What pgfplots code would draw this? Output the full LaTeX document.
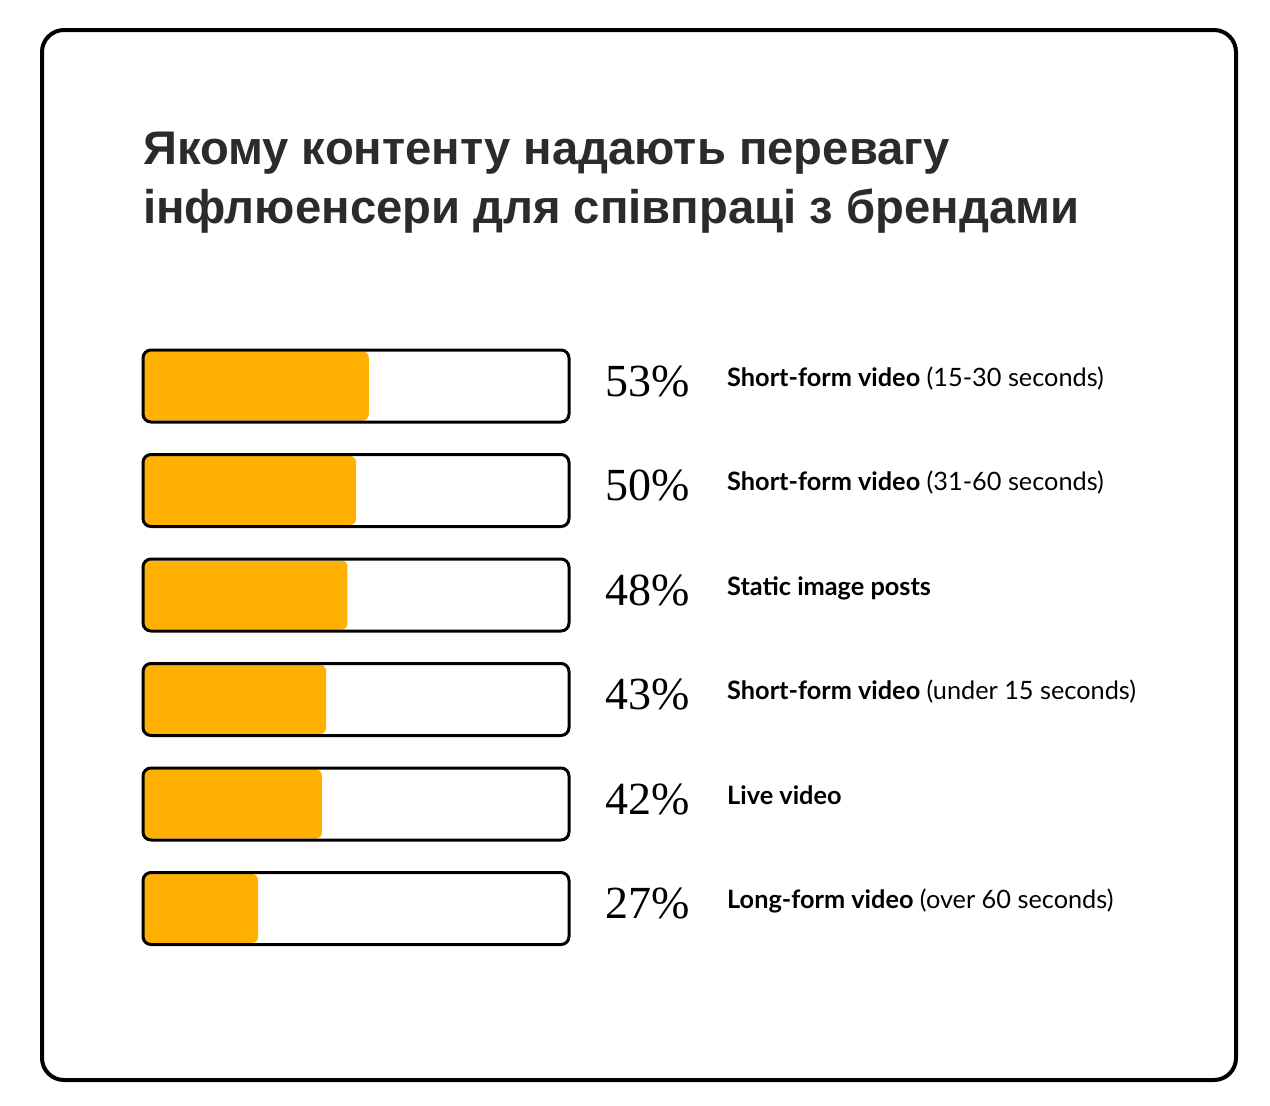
\documentclass[border=0pt]{standalone}
\usepackage{pgfplots}
\pgfplotsset{compat=1.18}
\usepackage{pgfplotstable}
\usepackage{fontspec}
\setmainfont{Lato}
\newfontfamily\titlefont{Liberation Sans}
\newfontfamily\numfont{Liberation Serif}
\definecolor{barfill}{HTML}{FFB000}
\definecolor{titlecol}{HTML}{2B2B2B}

\pgfplotstableread{
idx value
0 53
1 50
2 48
3 43
4 42
5 27
}\datatable

\begin{document}
\begin{tikzpicture}[x=1pt,y=1pt]
\path[use as bounding box, fill=white] (0,0) rectangle (1270,-1106);
\draw[line width=4pt, rounded corners=22pt] (42,-30) rectangle (1236,-1080);
\node[anchor=base west, inner sep=0pt, text=titlecol, font=\titlefont\bfseries\fontsize{47.2}{56}\selectfont] at (143,-164) {Якому контенту надають перевагу};
\node[anchor=base west, inner sep=0pt, text=titlecol, font=\titlefont\bfseries\fontsize{47.2}{56}\selectfont] at (143,-223) {інфлюенсери для співпраці з брендами};
\begin{axis}[
  at={(143pt,-333.75pt)}, anchor=north west,
  scale only axis, width=426pt, height=627pt,
  xmin=0, xmax=100, ymin=-0.5, ymax=5.5, y dir=reverse,
  hide axis, clip=false,
]
\addplot[xbar, bar shift=0pt, bar width=69pt, draw=none, fill=barfill, rounded corners=6pt]
  table[x=value, y=idx] {\datatable};
\addplot[xbar, bar shift=0pt, bar width=72pt, draw=black, line width=3pt, fill=none, rounded corners=8pt]
  coordinates {(100,0) (100,1) (100,2) (100,3) (100,4) (100,5)};
\tikzset{pct/.style={anchor=base west, inner sep=0pt, yshift=-10pt, font=\numfont\fontsize{46}{46}\selectfont},
         lab/.style={anchor=base west, inner sep=0pt, font=\fontsize{25.3}{25.3}\selectfont}}
\node[pct] at (axis cs:108.45,0) {53\%};
\node[pct] at (axis cs:108.45,1) {50\%};
\node[pct] at (axis cs:108.45,2) {48\%};
\node[pct] at (axis cs:108.45,3) {43\%};
\node[pct] at (axis cs:108.45,4) {42\%};
\node[pct] at (axis cs:108.45,5) {27\%};
\node[lab] at (axis cs:137.09,0) {\textbf{Short-form video} (15-30 seconds)};
\node[lab] at (axis cs:137.09,1) {\textbf{Short-form video} (31-60 seconds)};
\node[lab] at (axis cs:137.09,2) {\textbf{Static image posts}};
\node[lab] at (axis cs:137.09,3) {\textbf{Short-form video} (under 15 seconds)};
\node[lab] at (axis cs:137.09,4) {\textbf{Live video}};
\node[lab] at (axis cs:137.09,5) {\textbf{Long-form video} (over 60 seconds)};
\end{axis}
\end{tikzpicture}
\end{document}
